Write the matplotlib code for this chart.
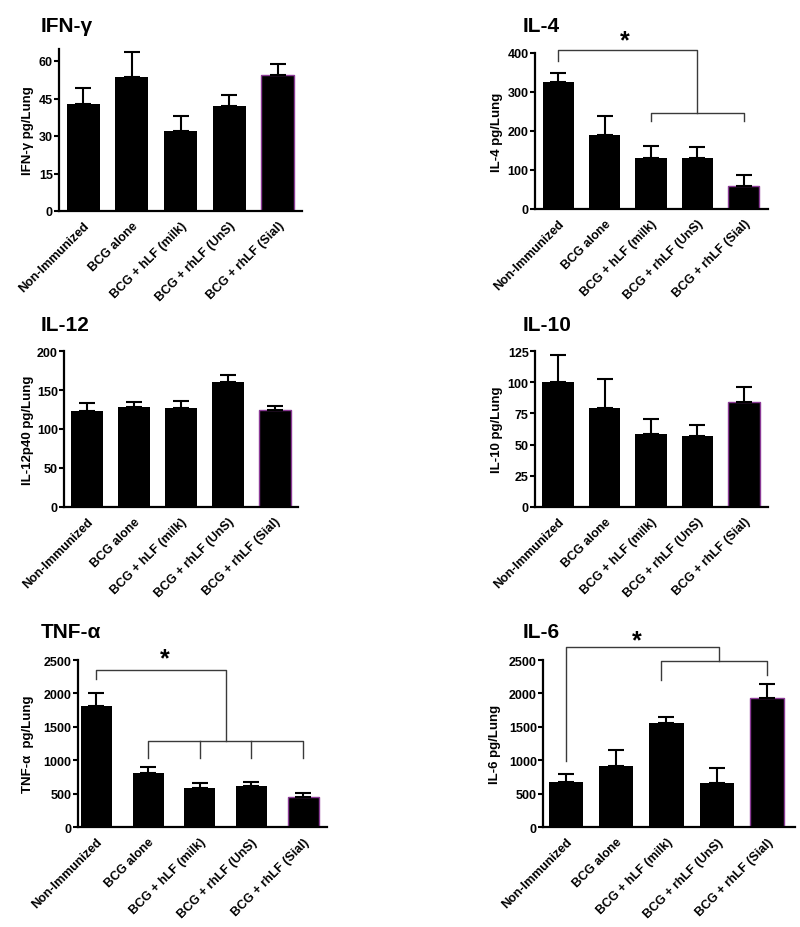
import matplotlib
matplotlib.use("Agg")
import matplotlib.pyplot as plt
import numpy as np

plt.rcParams['font.family'] = ['Liberation Sans', 'DejaVu Sans']
plt.rcParams['font.weight'] = 'bold'

groups = ["Non-Immunized", "BCG alone", "BCG + hLF (milk)",
          "BCG + rhLF (UnS)", "BCG + rhLF (Sial)"]

# mean and top of error bar (mean + SEM)
ifng_mean = [42.7, 53.8, 32.1, 41.9, 54.5]
ifng_top = [49.2, 63.6, 37.9, 46.6, 58.7]
il4_mean = [325, 191, 132, 132, 60]
il4_top = [350, 238, 162, 160, 86]
il12_mean = [123.6, 127.9, 127.0, 160.0, 124.9]
il12_top = [133.9, 135.2, 136.0, 169.0, 130.0]
il10_mean = [100.6, 79.1, 58.2, 56.9, 84.2]
il10_top = [121.8, 102.7, 70.5, 66.0, 96.6]
tnf_mean = [1818, 812, 588, 612, 453]
tnf_top = [2007, 901, 662, 677, 508]
il6_mean = [682, 911, 1554, 667, 1927]
il6_top = [792, 1150, 1648, 891, 2141]

# (title, ylabel, mean, top, ymax, ystep, pixel box l,r,t,b, xlim, bar width, ylabel x)
panels = [
    ("IFN-γ", "IFN-γ pg/Lung", ifng_mean, ifng_top, 65, 15,
     (59, 302, 49.5, 212), (-0.5, 4.5), 0.68, -0.103),
    ("IL-4", "IL-4 pg/Lung", il4_mean, il4_top, 400, 100,
     (535, 768, 54, 210), (-0.5, 4.52), 0.67, -0.137),
    ("IL-12", "IL-12p40 pg/Lung", il12_mean, il12_top, 200, 50,
     (64, 298, 352.3, 507.7), (-0.5, 4.5), 0.68, -0.128),
    ("IL-10", "IL-10 pg/Lung", il10_mean, il10_top, 125, 25,
     (535, 768, 352.3, 507.7), (-0.5, 4.52), 0.68, -0.137),
    ("TNF-α", "TNF-α  pg/Lung", tnf_mean, tnf_top, 2500, 500,
     (77.7, 327, 661, 828.3), (-0.36, 4.46), 0.6, -0.175),
    ("IL-6", "IL-6 pg/Lung", il6_mean, il6_top, 2500, 500,
     (543, 795, 661, 828.3), (-0.45, 4.55), 0.68, -0.167),
]

title_pos = [(41, 32), (523, 32), (41, 331), (523, 331), (41, 638), (523, 638)]

W, H = 800, 928
fig = plt.figure(figsize=(8, 9.28), dpi=100)
axes = []

for (title, ylab, mean, top, ymax, ystep, box, xlim, bw, ylx), tp in zip(panels, title_pos):
    l, r, t, b = box
    ax = fig.add_axes([l / W, 1 - b / H, (r - l) / W, (b - t) / H])
    x = np.arange(len(groups))
    mean = np.array(mean)
    top = np.array(top)
    bars = ax.bar(x, mean, width=bw, color='black', zorder=2)
    bars[-1].set_edgecolor('#8b3a96')
    bars[-1].set_linewidth(1.0)
    ax.errorbar(x, mean, yerr=[np.zeros(len(x)), top - mean], fmt='none',
                ecolor='black', elinewidth=1.5, capsize=6, capthick=1.5, zorder=3)
    ax.set_xlim(*xlim)
    ax.set_ylim(0, ymax)
    ax.set_yticks(np.arange(0, ymax + 1, ystep))
    ax.set_xticks(x)
    ax.set_xticklabels(groups, rotation=45, ha='right', rotation_mode='anchor',
                       fontsize=9, fontweight='bold')
    ax.tick_params(axis='x', length=0, pad=6)
    ax.tick_params(axis='y', length=3.5, width=1.5, labelsize=9, pad=1)
    for lab in ax.get_yticklabels():
        lab.set_fontweight('bold')
    for s in ['top', 'right']:
        ax.spines[s].set_visible(False)
    for s in ['left', 'bottom']:
        ax.spines[s].set_linewidth(1.6)
    ax.set_ylabel(ylab, fontsize=9.5, fontweight='bold')
    ax.yaxis.set_label_coords(ylx, 0.5)
    fig.text(tp[0] / W, 1 - tp[1] / H, title, fontsize=15, fontweight='bold',
             va='baseline', ha='left')
    axes.append(ax)

bc = '#3a3a3a'


def seg(ax, xs, ys):
    ax.plot(xs, ys, color=bc, lw=1.0, clip_on=False, zorder=4)


# IL-4 significance brackets
ax = axes[1]
seg(ax, [0, 0, 3, 3], [380, 408, 408, 246])
seg(ax, [2, 2, 4, 4], [226, 246, 246, 226])
ax.text(1.44, 403, "*", fontsize=18, fontweight='bold', ha='center', va='bottom')

# TNF-a brackets
ax = axes[4]
seg(ax, [0, 0, 2.5, 2.5], [2216, 2350, 2350, 1290])
seg(ax, [1, 1, 4, 4], [1036, 1290, 1290, 1036])
for xi in [2, 3]:
    seg(ax, [xi, xi], [1290, 1036])
ax.text(1.32, 2350, "*", fontsize=18, fontweight='bold', ha='center', va='bottom')

# IL-6 brackets
ax = axes[5]
seg(ax, [0, 0, 3.04, 3.04], [996, 2699, 2699, 2490])
seg(ax, [1.9, 1.9, 4, 4], [2206, 2490, 2490, 2276])
ax.text(1.42, 2620, "*", fontsize=18, fontweight='bold', ha='center', va='bottom')

fig.savefig("out.png", dpi=100)
